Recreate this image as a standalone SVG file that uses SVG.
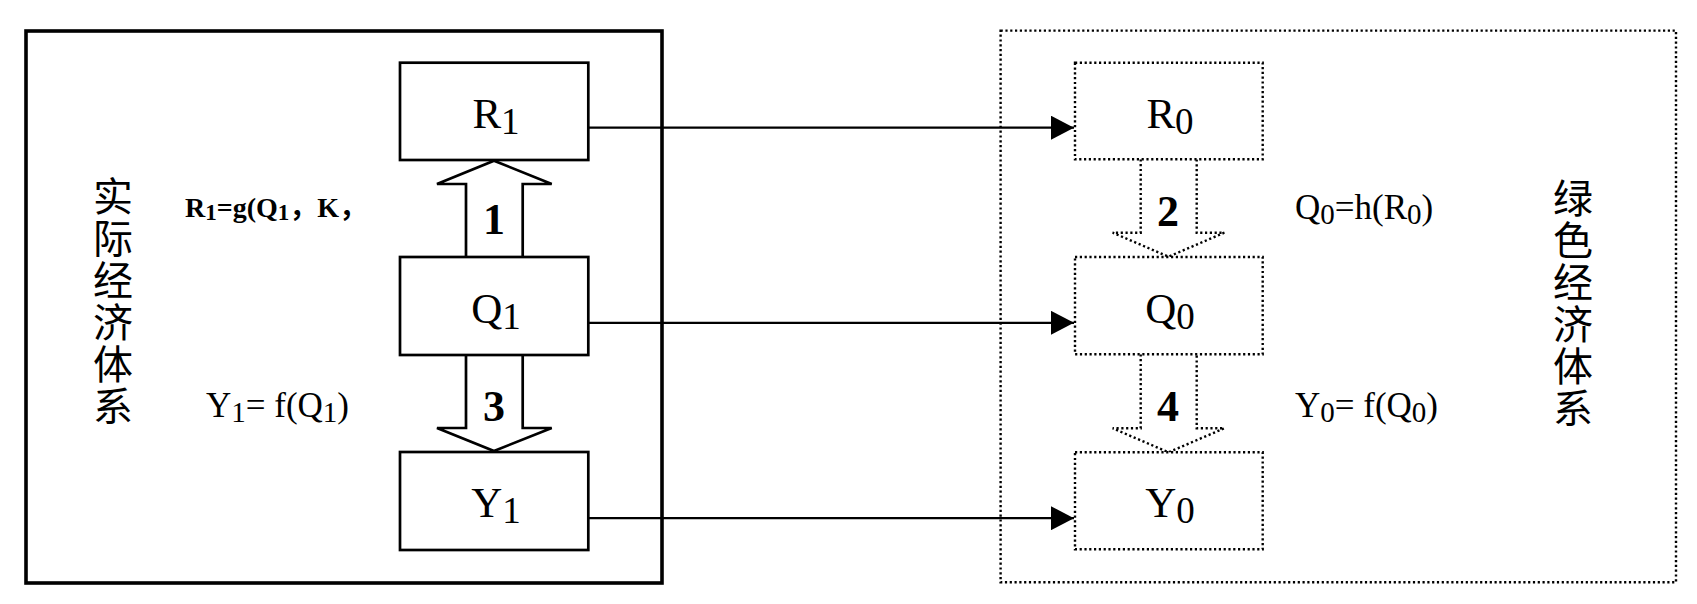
<svg xmlns="http://www.w3.org/2000/svg" width="1697" height="604" viewBox="0 0 1697 604">
  <style>
    .bg { fill: #ffffff; }
    .outer-solid { fill: none; stroke: #000; stroke-width: 3.6; }
    .outer-dot { fill: none; stroke: #000; stroke-width: 2.4; stroke-dasharray: 2.2 2.6; }
    .box-solid { fill: #fff; stroke: #000; stroke-width: 2.7; }
    .box-dot { fill: #fff; stroke: #000; stroke-width: 2.4; stroke-dasharray: 2.2 2.6; }
    .blk-solid { fill: #fff; stroke: #000; stroke-width: 2.7; stroke-linejoin: miter; }
    .blk-dot { fill: #fff; stroke: #000; stroke-width: 2.4; stroke-dasharray: 2.2 2.6; }
    .conn { fill: none; stroke: #000; stroke-width: 2.3; }
    .lbl { font-family: "Liberation Serif", "Times New Roman", serif; font-size: 43px; fill: #000; }
    .sub { font-size: 37px; }
    .num { font-family: "Liberation Serif", "Times New Roman", serif; font-size: 44px; font-weight: bold; fill: #000; }
    .eq { font-family: "Liberation Serif", "Times New Roman", serif; font-size: 35px; fill: #000; }
    .eqsub { font-size: 29px; }
    .eqb { font-family: "Liberation Serif", "Noto Sans CJK SC", serif; font-size: 28px; font-weight: bold; fill: #000; }
    .eqbsub { font-size: 23px; }
    .cjk { font-family: "Noto Sans CJK SC", "Noto Sans CJK JP", sans-serif; fill: #000; writing-mode: vertical-rl; font-size: 40px; letter-spacing: 2px; }
  </style>
  <defs>
    <marker id="ah" markerUnits="userSpaceOnUse" markerWidth="24" markerHeight="24" refX="23" refY="12" orient="auto">
      <path d="M0,0 L23,12 L0,24 Z" fill="#000"/>
    </marker>
  </defs>
  <rect class="bg" x="0" y="0" width="1697" height="604"/>

  <g id="actual-system">
    <rect class="outer-solid" x="26" y="31" width="636" height="552"/>
    <text class="cjk" x="113" y="176">实际经济体系</text>
  </g>

  <g id="green-system">
    <rect class="outer-dot" x="1000.6" y="30.6" width="675.4" height="551.7"/>
    <text class="cjk" x="1573" y="178">绿色经济体系</text>
  </g>

  <g id="connectors">
    <line class="conn" x1="589" y1="127.7" x2="1074" y2="127.7" marker-end="url(#ah)"/>
    <line class="conn" x1="589" y1="322.8" x2="1074" y2="322.8" marker-end="url(#ah)"/>
    <line class="conn" x1="589" y1="518.2" x2="1074" y2="518.2" marker-end="url(#ah)"/>
    <polyline class="blk-solid" points="466,257 466,184 437,184 494,160.7 551.7,184 522.7,184 522.7,257"/>
    <polyline class="blk-solid" points="466,355 466,428 437,428 494,451 551.7,428 522.7,428 522.7,355"/>
    <polyline class="blk-dot" points="1140.7,159.3 1140.7,232.7 1112.7,232.7 1168.5,256.7 1224.3,232.7 1196.7,232.7 1196.7,159.3"/>
    <polyline class="blk-dot" points="1140.7,354.3 1140.7,428.3 1112.7,428.3 1168.5,452.3 1224.3,428.3 1196.7,428.3 1196.7,354.3"/>
    <text class="num" x="494" y="234" text-anchor="middle">1</text>
    <text class="num" x="1168" y="226" text-anchor="middle">2</text>
    <text class="num" x="494" y="421" text-anchor="middle">3</text>
    <text class="num" x="1168" y="421" text-anchor="middle">4</text>
  </g>

  <g id="node-R1">
    <rect class="box-solid" x="400" y="62.7" width="188.3" height="97.3"/>
    <text class="lbl" x="496" y="128.3" text-anchor="middle">R<tspan class="sub" dy="6">1</tspan></text>
  </g>
  <g id="node-Q1">
    <rect class="box-solid" x="400" y="257" width="188.3" height="98"/>
    <text class="lbl" x="496" y="323" text-anchor="middle">Q<tspan class="sub" dy="6">1</tspan></text>
  </g>
  <g id="node-Y1">
    <rect class="box-solid" x="400" y="452" width="188.3" height="98"/>
    <text class="lbl" x="496" y="517" text-anchor="middle">Y<tspan class="sub" dy="6">1</tspan></text>
  </g>

  <g id="node-R0">
    <rect class="box-dot" x="1075" y="62.7" width="187.7" height="96.6"/>
    <text class="lbl" x="1170" y="128.3" text-anchor="middle">R<tspan class="sub" dy="6">0</tspan></text>
  </g>
  <g id="node-Q0">
    <rect class="box-dot" x="1075" y="257" width="187.7" height="97.3"/>
    <text class="lbl" x="1170" y="323" text-anchor="middle">Q<tspan class="sub" dy="6">0</tspan></text>
  </g>
  <g id="node-Y0">
    <rect class="box-dot" x="1075" y="452.3" width="187.7" height="97"/>
    <text class="lbl" x="1170" y="517" text-anchor="middle">Y<tspan class="sub" dy="6">0</tspan></text>
  </g>

  <g id="labels">
    <text class="eqb" x="185" y="216.7">R<tspan class="eqbsub" dy="3">1</tspan><tspan dy="-3">=g(Q</tspan><tspan class="eqbsub" dy="3">1</tspan><tspan dy="-3">，K，</tspan></text>
    <text class="eq" x="206" y="416.7">Y<tspan class="eqsub" dy="5">1</tspan><tspan dy="-5">= f(Q</tspan><tspan class="eqsub" dy="5">1</tspan><tspan dy="-5">)</tspan></text>
    <text class="eq" x="1295" y="219.3">Q<tspan class="eqsub" dy="5">0</tspan><tspan dy="-5">=h(R</tspan><tspan class="eqsub" dy="5">0</tspan><tspan dy="-5">)</tspan></text>
    <text class="eq" x="1295" y="416.7">Y<tspan class="eqsub" dy="5">0</tspan><tspan dy="-5">= f(Q</tspan><tspan class="eqsub" dy="5">0</tspan><tspan dy="-5">)</tspan></text>
  </g>
</svg>
